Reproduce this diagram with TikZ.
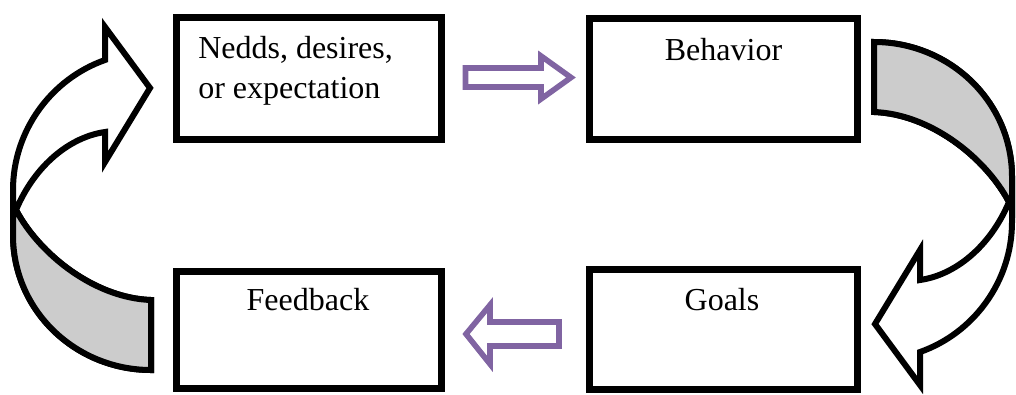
\documentclass[tikz,border=0pt]{standalone}
\usepackage{fontspec}
\setmainfont{Liberation Serif}
\definecolor{arrowpurple}{HTML}{8064A2}
\definecolor{backgrey}{HTML}{CCCCCC}
\tikzset{
  box/.style={draw=black, line width=5.25pt, fill=white, inner sep=0pt, rectangle},
  lbl/.style={inner sep=0pt, font=\fontsize{24}{29}\selectfont},
  blockarrow/.style={draw=arrowpurple, line width=4.2pt, fill=white, line join=miter},
  ribbon/.style={draw=black, line width=4.5pt, line join=miter},
  pics/curvearrow/.style={code={
    \path[ribbon, fill=white]
      (105,60) -- (105,27) -- (150,88) -- (105,162) -- (105,132)
      .. controls (70,137) and (35,165) .. (16,210)
      .. controls (40,255) and (95,298) .. (151,300)
      -- (151,370)
      .. controls (76,370) and (13,311) .. (13,235)
      -- (13,190)
      .. controls (13,131) and (51,79) .. (105,60) -- cycle;
    \path[ribbon, fill=backgrey]
      (16,210) .. controls (40,255) and (95,298) .. (151,300)
      -- (151,370)
      .. controls (76,370) and (13,311) .. (13,235)
      -- (13,205) -- cycle;
  }}
}
\begin{document}
\begin{tikzpicture}[x=0.75pt,y=-0.75pt]
\useasboundingbox (0,0) rectangle (1016,394);
% boxes
\node[box, minimum width=198.75pt, minimum height=91.5pt] (needs) at (309,78) {};
\node[box, minimum width=201pt, minimum height=90.75pt] (behavior) at (723,78.5) {};
\node[box, minimum width=198.75pt, minimum height=87.75pt] (feedback) at (309,330) {};
\node[box, minimum width=201pt, minimum height=90pt] (goals) at (723,329) {};
% texts
\node[lbl, anchor=base west] (needsA) at (198,58) {Nedds, desires,};
\node[lbl, anchor=base west] (needsB) at (198,98) {or expectation};
\node[lbl, anchor=base] (behaviorT) at (723.5,60) {Behavior};
\node[lbl, anchor=base] (feedbackT) at (308,310) {Feedback};
\node[lbl, anchor=base] (goalsT) at (722,310) {Goals};
% block arrows
\path[blockarrow] (465.5,68) -- (541,68) -- (541,56) -- (571,77.5) -- (541,99) -- (541,87) -- (465.5,87) -- cycle;
\path[blockarrow] (559,322) -- (490,322) -- (490,305) -- (466,334) -- (490,364) -- (490,346) -- (559,346) -- cycle;
% curved arrows
\pic (leftcurve) at (0,0) {curvearrow};
\pic[rotate=180] (rightcurve) at (1025,412) {curvearrow};
\end{tikzpicture}
\end{document}
